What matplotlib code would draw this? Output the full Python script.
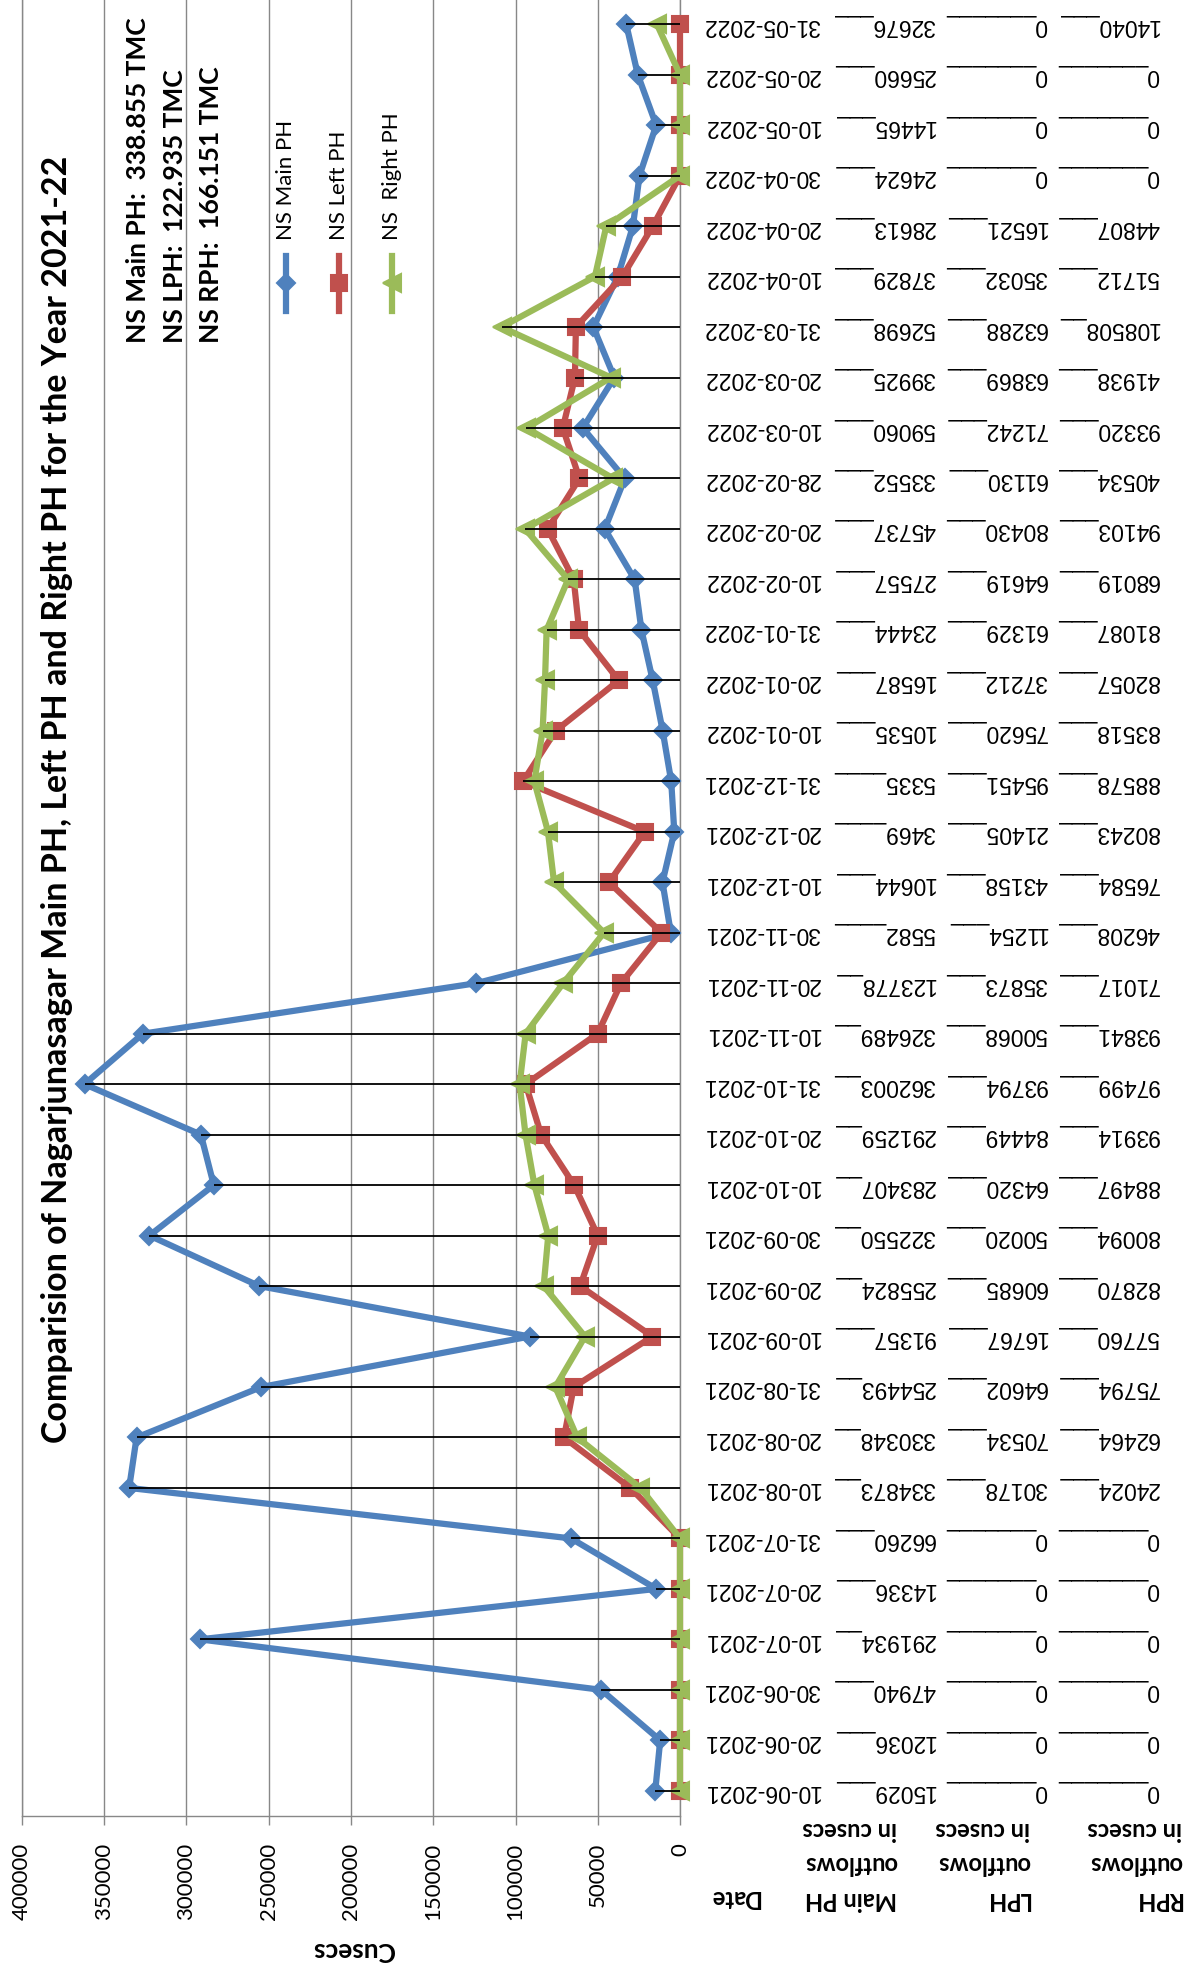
import matplotlib
matplotlib.use('Agg')
import matplotlib.pyplot as plt
from matplotlib.lines import Line2D
from matplotlib.transforms import blended_transform_factory

W, H = 1191, 1974

# data
dates = ['10-06-2021', '20-06-2021', '30-06-2021', '10-07-2021', '20-07-2021', '31-07-2021',
         '10-08-2021', '20-08-2021', '31-08-2021', '10-09-2021', '20-09-2021', '30-09-2021',
         '10-10-2021', '20-10-2021', '31-10-2021', '10-11-2021', '20-11-2021', '30-11-2021',
         '10-12-2021', '20-12-2021', '31-12-2021', '10-01-2022', '20-01-2022', '31-01-2022',
         '10-02-2022', '20-02-2022', '28-02-2022', '10-03-2022', '20-03-2022', '31-03-2022',
         '10-04-2022', '20-04-2022', '30-04-2022', '10-05-2022', '20-05-2022', '31-05-2022']
main_ph = [15029, 12036, 47940, 291934, 14336, 66260, 334873, 330348, 254493, 91357, 255824, 322550,
           283407, 291259, 362003, 326489, 123778, 5582, 10644, 3469, 5335, 10535, 16587, 23444,
           27557, 45737, 33552, 59060, 39925, 52698, 37829, 28613, 24624, 14465, 25660, 32676]
lph = [0, 0, 0, 0, 0, 0, 30178, 70534, 64602, 16767, 60685, 50020,
       64320, 84449, 93794, 50068, 35873, 11254, 43158, 21405, 95451, 75620, 37212, 61329,
       64619, 80430, 61130, 71242, 63869, 63288, 35032, 16521, 0, 0, 0, 0]
rph = [0, 0, 0, 0, 0, 0, 24024, 62464, 75794, 57760, 82870, 80094,
       88497, 93914, 97499, 93841, 71017, 46208, 76584, 80243, 88578, 83518, 82057, 81087,
       68019, 94103, 40534, 93320, 41938, 108508, 51712, 44807, 0, 0, 0, 14040]
tick_values = [0, 50000, 100000, 150000, 200000, 250000, 300000, 350000, 400000]

title = 'Comparision of Nagarjunasagar Main PH, Left PH and Right PH for the Year 2021-22'
totals = ['NS Main PH:  338.855 TMC', 'NS LPH:  122.935 TMC', 'NS RPH:  166.151 TMC']
series_names = ['NS Main PH', 'NS Left PH', 'NS  Right PH']
row_heads = [['Main PH', 'outflows', 'in cusecs'],
             ['LPH', 'outflows', 'in cusecs'],
             ['RPH', 'outflows', 'in cusecs']]

colors = ['#4F81BD', '#C0504D', '#9BBB59']
markers = ['D', 's', '<']
msizes = [9, 12, 13]
GRID = '#888888'
CELL_FONT = ['Liberation Sans', 'DejaVu Sans']

plt.rcParams['font.family'] = ['Lato', 'DejaVu Sans']

fig = plt.figure(figsize=(W / 100, H / 100), dpi=100)

def fx(px):
    return px / W

def fy(py):
    return 1 - py / H

# chart is drawn turned on its side: values run right->left, dates bottom->top
ax = fig.add_axes([fx(22), fy(1817), fx(680) - fx(22), fy(0) - fy(1817)])
y_pos = list(range(len(dates)))

for vals, c, m, ms in zip([main_ph, lph, rph], colors, markers, msizes):
    ax.plot(vals, y_pos, color=c, lw=4.5, marker=m, ms=ms, mfc=c, mec=c, mew=1.5,
            zorder=3, clip_on=False)

# drop lines to the highest series
tops = [max(a, b, c) for a, b, c in zip(main_ph, lph, rph)]
ax.hlines(y_pos, 0, tops, color='black', lw=1.3, zorder=4)

ax.set_xlim(400000, 0)
ax.set_ylim(-0.5, len(dates) - 0.5)
ax.set_xticks(tick_values, labels=[str(v) for v in tick_values])
ax.set_yticks([])
ax.tick_params(axis='x', length=6.5, width=1, color=GRID, pad=12, labelsize=16, labelrotation=90)
ax.grid(axis='x', color=GRID, lw=1.0)
ax.set_axisbelow(True)
ax.spines['top'].set_visible(False)
for s in ['left', 'right', 'bottom']:
    ax.spines[s].set_color(GRID)
    ax.spines[s].set_linewidth(1.0)

# data table (upside down text)
tr = blended_transform_factory(fig.transFigure, ax.transData)
col_right = [820, 935, 1047, 1159]
for i in y_pos:
    ax.text(fx(col_right[0]), i, dates[i], transform=tr, rotation=180, ha='right', va='center',
            fontsize=16.5, family=CELL_FONT, clip_on=False)
    for k, vals in enumerate([main_ph, lph, rph]):
        ax.text(fx(col_right[k + 1]), i, str(vals[i]).ljust(8, '_'), transform=tr, rotation=180,
                ha='right', va='center', fontsize=16.5, family=CELL_FONT, clip_on=False)

fig.text(fx(734), fy(1898), 'Date', rotation=180, ha='center', va='center',
         fontsize=17, fontweight='bold')
head_right = [897, 1030, 1182]
head_y = [1900, 1864, 1830]
for k, lines in enumerate(row_heads):
    for line, yy in zip(lines, head_y):
        fig.text(fx(head_right[k]), fy(yy), line, rotation=180, ha='right', va='center',
                 fontsize=17, fontweight='bold')

fig.text(fx(353), fy(1950), 'Cusecs', rotation=180, ha='center', va='center',
         fontsize=19, fontweight='bold')

fig.text(fx(57), fy(799), title, rotation=90, ha='center', va='center',
         fontsize=24.5, fontweight='bold')

for t, xx in zip(totals, [138, 175, 211]):
    fig.text(fx(xx), fy(343), t, rotation=90, ha='center', va='bottom',
             fontsize=19, fontweight='bold')

# legend, turned like the chart
for name, c, m, ms, xx in zip(series_names, colors, markers, msizes, [286, 339, 392]):
    fig.add_artist(Line2D([fx(xx), fx(xx)], [fy(312), fy(257)], color=c, lw=4.5))
    fig.add_artist(Line2D([fx(xx)], [fy(284)], color=c, marker=m, ms=ms, mfc=c, mec=c, mew=1.5))
    fig.text(fx(xx), fy(240), name, rotation=90, ha='center', va='bottom', fontsize=16)

fig.savefig('out.png', dpi=100, facecolor='white')
